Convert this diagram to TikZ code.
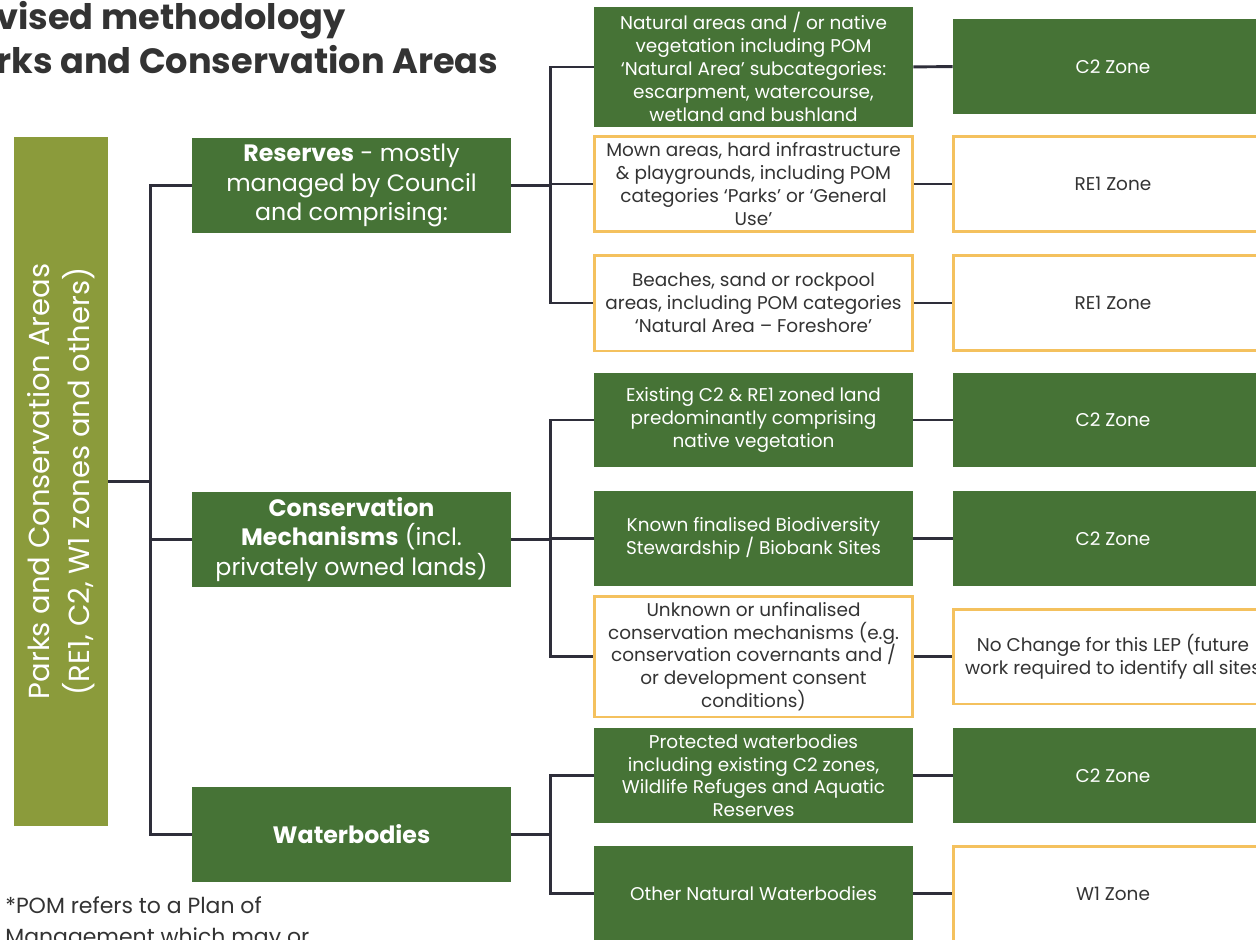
\documentclass[tikz,border=0pt]{standalone}
\usepackage{fontspec}
\setmainfont{Poppins}
\definecolor{dunkelgruen}{HTML}{467336}
\definecolor{oliv}{HTML}{8B9B3B}
\definecolor{orangerand}{HTML}{F4C15E}
\definecolor{linie}{HTML}{2E2E3A}
\definecolor{schrift}{HTML}{333333}
\tikzset{
  kasten/.style={minimum width=6.38cm, inner sep=0pt, align=center,
    font=\fontsize{10.5}{13}\selectfont},
  gruen/.style={kasten, fill=dunkelgruen, text=white},
  weiss/.style={kasten, draw=orangerand, line width=1.7pt, fill=white, text=schrift},
  haupt/.style={fill=dunkelgruen, text=white, minimum width=6.38cm, minimum height=1.9cm,
    inner sep=0pt, align=center, font=\fontsize{13.5}{17}\selectfont},
  zone/.style={minimum width=6.4cm, minimum height=1.9cm},
  conn/.style={draw=linie, line width=1.7pt},
}
\begin{document}
\begin{tikzpicture}[x=0.02cm,y=-0.02cm]
  \fill[white] (0,0) rectangle (1256,939);
  \useasboundingbox (0,0) rectangle (1256,939);

  % Titel und Fussnote
  \node[anchor=base west, inner sep=0pt, text=schrift, font=\fontsize{20}{24}\selectfont\bfseries] (titel1) at (-4,30) {vised methodology};
  \node[anchor=base west, inner sep=0pt, text=schrift, font=\fontsize{20}{24}\selectfont\bfseries] (titel2) at (-4,74) {rks and Conservation Areas};
  \node[anchor=base west, inner sep=0pt, text=schrift, font=\fontsize{12.5}{16}\selectfont] (fuss1) at (5,913) {*POM refers to a Plan of};
  \node[anchor=base west, inner sep=0pt, text=schrift, font=\fontsize{12.5}{16}\selectfont] (fuss2) at (5,944) {Management which may or};

  % Balken links
  \node[fill=oliv, text=white, rotate=90, minimum width=13.78cm, minimum height=1.88cm, inner sep=0pt,
    align=center, font=\fontsize{16.5}{22.7}\selectfont] (park) at (61,481.5)
    {Parks and Conservation Areas\\(RE1, C2, W1 zones and others)};

  % erste Ebene
  \node[haupt] (res) at (351.5,185.5) {\textbf{Reserves} - mostly\\managed by Council\\and comprising:};
  \node[haupt] (con) at (351.5,539.5) {\textbf{Conservation}\\\textbf{Mechanisms} (incl.\\privately owned lands)};
  \node[haupt] (wat) at (351.5,834) {\textbf{Waterbodies}};

  % zweite Ebene
  \node[gruen, minimum height=2.4cm] (a1) at (753.5,67) {Natural areas and / or native\\vegetation including POM\\‘Natural Area’ subcategories:\\escarpment, watercourse,\\wetland and bushland};
  \node[weiss, minimum height=1.92cm] (a2) at (753.5,184) {Mown areas, hard infrastructure\\\& playgrounds, including POM\\categories ‘Parks’ or ‘General\\Use’};
  \node[weiss, minimum height=1.92cm] (a3) at (753.5,303) {Beaches, sand or rockpool\\areas, including POM categories\\‘Natural Area – Foreshore’};
  \node[gruen, minimum height=1.88cm] (a4) at (753.5,420) {Existing C2 \& RE1 zoned land\\predominantly comprising\\native vegetation};
  \node[gruen, minimum height=1.9cm] (a5) at (753.5,538.5) {Known finalised Biodiversity\\Stewardship / Biobank Sites};
  \node[weiss, minimum height=2.42cm] (a6) at (753.5,656.5) {Unknown or unfinalised\\conservation mechanisms (e.g.\\conservation covernants and /\\or development consent\\conditions)};
  \node[gruen, minimum height=1.9cm] (a7) at (753.5,775.5) {Protected waterbodies\\including existing C2 zones,\\Wildlife Refuges and Aquatic\\Reserves};
  \node[gruen, minimum height=1.9cm] (a8) at (753.5,893.5) {Other Natural Waterbodies};

  % dritte Ebene
  \node[gruen, zone] (z1) at (1113,66.5) {C2 Zone};
  \node[weiss, zone] (z2) at (1113,184) {RE1 Zone};
  \node[weiss, zone] (z3) at (1113,303) {RE1 Zone};
  \node[gruen, zone] (z4) at (1113,420) {C2 Zone};
  \node[gruen, zone] (z5) at (1113,538.5) {C2 Zone};
  \node[weiss, zone] (z6) at (1113,656.5) {No Change for this LEP (future\\work required to identify all sites};
  \node[gruen, zone] (z7) at (1113,775.5) {C2 Zone};
  \node[weiss, zone] (z8) at (1113,893.5) {W1 Zone};

  % Verbindungen
  \foreach \k in {res,con,wat}
    \draw[conn] (park.south) -- +(42,0) |- (\k.west);
  \foreach \i in {1,2,3}
    \draw[conn] (res.east) -- +(39,0) |- (a\i.west);
  \foreach \i in {4,5,6}
    \draw[conn] (con.east) -- +(39,0) |- (a\i.west);
  \foreach \i in {7,8}
    \draw[conn] (wat.east) -- +(39,0) |- (a\i.west);
  \foreach \i in {1,...,8}
    \draw[conn] (a\i) -- (z\i);
\end{tikzpicture}
\end{document}
